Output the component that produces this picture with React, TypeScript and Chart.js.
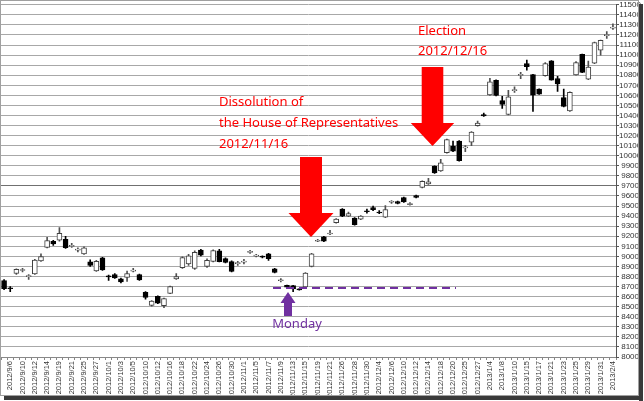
import React, { useEffect, useRef } from 'react';
import { Chart, registerables } from 'chart.js';

Chart.register(...registerables);

const dates: string[] = [
  '2012/9/5', '2012/9/6', '2012/9/7', '2012/9/10', '2012/9/11', '2012/9/12', '2012/9/13', '2012/9/14', '2012/9/18', '2012/9/19',
  '2012/9/20', '2012/9/21', '2012/9/24', '2012/9/25', '2012/9/26', '2012/9/27', '2012/9/28',
  '2012/10/1', '2012/10/2', '2012/10/3', '2012/10/4', '2012/10/5', '2012/10/9', '2012/10/10', '2012/10/11', '2012/10/12',
  '2012/10/15', '2012/10/16', '2012/10/17', '2012/10/18', '2012/10/19', '2012/10/22', '2012/10/23', '2012/10/24', '2012/10/25',
  '2012/10/26', '2012/10/29', '2012/10/30', '2012/10/31',
  '2012/11/1', '2012/11/2', '2012/11/5', '2012/11/6', '2012/11/7', '2012/11/8', '2012/11/9', '2012/11/12', '2012/11/13',
  '2012/11/14', '2012/11/15', '2012/11/16', '2012/11/19', '2012/11/20', '2012/11/21', '2012/11/22', '2012/11/26', '2012/11/27',
  '2012/11/28', '2012/11/29', '2012/11/30',
  '2012/12/3', '2012/12/4', '2012/12/5', '2012/12/6', '2012/12/7', '2012/12/10', '2012/12/11', '2012/12/12', '2012/12/13',
  '2012/12/14', '2012/12/17', '2012/12/18', '2012/12/19', '2012/12/20', '2012/12/21', '2012/12/25', '2012/12/26', '2012/12/27',
  '2012/12/28',
  '2013/1/4', '2013/1/7', '2013/1/8', '2013/1/9', '2013/1/10', '2013/1/11', '2013/1/15', '2013/1/16', '2013/1/17', '2013/1/18',
  '2013/1/21', '2013/1/22', '2013/1/23', '2013/1/24', '2013/1/25', '2013/1/28', '2013/1/29', '2013/1/30', '2013/1/31',
  '2013/2/1', '2013/2/4',
];

const openPrices: number[] = [
  8760, 8685, 8830, 8860, 8800, 8826, 8955, 9090, 9150, 9160,
  9170, 9100, 9065, 9025, 8945, 8855, 8985, 8805, 8820, 8777,
  8790, 8855, 8820, 8643, 8513, 8603, 8510, 8633, 8777, 8887,
  8925, 8880, 9062, 8900, 8950, 9055, 8977, 8948, 8930, 8945,
  9040, 9005, 9000, 9025, 8875, 8760, 8713, 8710, 8675, 8697,
  8900, 9150, 9195, 9225, 9335, 9470, 9400, 9380, 9370, 9450,
  9485, 9440, 9390, 9540, 9545, 9585, 9515, 9605, 9685, 9720,
  9895, 9850, 10030, 10095, 10145, 10080, 10135, 10300, 10410, 10605,
  10750, 10548, 10410, 10650, 10800, 10917, 10807, 10662, 10795, 10943,
  10768, 10577, 10446, 10802, 11007, 10760, 10920, 11050, 11195, 11270,
];

const highPrices: number[] = [
  8770, 8700, 8875, 8880, 8820, 8970, 9025, 9190, 9160, 9285,
  9200, 9130, 9085, 9095, 8965, 8960, 8990, 8815, 8830, 8785,
  8855, 8880, 8825, 8650, 8560, 8608, 8585, 8705, 8830, 8995,
  9020, 9055, 9070, 8975, 9065, 9070, 8985, 8955, 8950, 8970,
  9060, 9020, 9005, 9030, 8880, 8780, 8715, 8712, 8680, 8840,
  9030, 9170, 9200, 9260, 9375, 9475, 9440, 9385, 9405, 9470,
  9500, 9455, 9505, 9555, 9550, 9590, 9535, 9610, 9750, 9775,
  9900, 9965, 10165, 10145, 10150, 10100, 10240, 10345, 10425, 10770,
  10755, 10590, 10650, 10685, 10830, 10950, 10810, 10665, 10925, 10945,
  10790, 10662, 10635, 10935, 11010, 10940, 11130, 11150, 11235, 11310,
];

const lowPrices: number[] = [
  8670, 8650, 8820, 8845, 8770, 8820, 8950, 9085, 9110, 9150,
  9080, 9090, 9045, 9020, 8900, 8850, 8860, 8760, 8780, 8735,
  8750, 8845, 8760, 8575, 8505, 8530, 8490, 8630, 8770, 8880,
  8910, 8870, 9005, 8890, 8945, 8945, 8935, 8845, 8910, 8925,
  9030, 8995, 8985, 8960, 8835, 8745, 8690, 8650, 8665, 8690,
  8895, 9145, 9145, 9215, 9330, 9395, 9395, 9310, 9365, 9430,
  9455, 9425, 9385, 9525, 9520, 9535, 9510, 9580, 9680, 9715,
  9825, 9845, 10025, 10040, 9945, 10040, 10100, 10295, 10390, 10600,
  10595, 10470, 10405, 10630, 10765, 10850, 10440, 10610, 10790, 10750,
  10640, 10485, 10440, 10800, 10825, 10755, 10915, 11000, 11165, 11255,
];

const closePrices: number[] = [
  8680, 8681, 8870, 8869, 8807, 8962, 8998, 9158, 9124, 9230,
  9087, 9110, 9069, 9085, 8910, 8950, 8865, 8797, 8786, 8747,
  8830, 8863, 8767, 8593, 8556, 8536, 8580, 8700, 8800, 8987,
  9005, 9040, 9013, 8960, 9058, 8948, 8940, 8850, 8935, 8950,
  9050, 9010, 8995, 8978, 8840, 8765, 8693, 8677, 8670, 8835,
  9025, 9160, 9150, 9230, 9370, 9400, 9425, 9315, 9400, 9446,
  9465, 9432, 9465, 9545, 9527, 9540, 9525, 9585, 9745, 9740,
  9830, 9930, 10160, 10045, 9950, 10085, 10235, 10325, 10395, 10735,
  10600, 10510, 10585, 10655, 10807, 10884, 10603, 10613, 10917, 10752,
  10713, 10490, 10630, 10927, 10829, 10881, 11125, 11148, 11203, 11277,
];

const Y_MIN = 8000;
const Y_MAX = 11500;
const Y_STEP = 100;

function downArrow(ctx: CanvasRenderingContext2D, cx: number, top: number, headTop: number, tip: number, shaftHalf: number, headHalf: number) {
  ctx.beginPath();
  ctx.moveTo(cx - shaftHalf, top);
  ctx.lineTo(cx + shaftHalf, top);
  ctx.lineTo(cx + shaftHalf, headTop);
  ctx.lineTo(cx + headHalf, headTop);
  ctx.lineTo(cx, tip);
  ctx.lineTo(cx - headHalf, headTop);
  ctx.lineTo(cx - shaftHalf, headTop);
  ctx.closePath();
  ctx.fill();
}

function upArrow(ctx: CanvasRenderingContext2D, cx: number, tip: number, headBase: number, bottom: number, shaftHalf: number, headHalf: number) {
  ctx.beginPath();
  ctx.moveTo(cx, tip);
  ctx.lineTo(cx + headHalf, headBase);
  ctx.lineTo(cx + shaftHalf, headBase);
  ctx.lineTo(cx + shaftHalf, bottom);
  ctx.lineTo(cx - shaftHalf, bottom);
  ctx.lineTo(cx - shaftHalf, headBase);
  ctx.lineTo(cx - headHalf, headBase);
  ctx.closePath();
  ctx.fill();
}

const overlayPlugin = {
  id: 'overlay',
  afterDraw(chart: any) {
    const ctx: CanvasRenderingContext2D = chart.ctx;
    ctx.save();
    // purple dashed line
    ctx.strokeStyle = '#7030A0';
    ctx.lineWidth = 2;
    ctx.setLineDash([8, 5]);
    ctx.beginPath();
    ctx.moveTo(273, 288);
    ctx.lineTo(456, 288);
    ctx.stroke();
    ctx.setLineDash([]);

    // red arrows
    ctx.fillStyle = '#FF0000';
    downArrow(ctx, 311, 157, 213, 237, 11, 22.5);
    downArrow(ctx, 432.5, 67, 123, 146, 10.8, 21.7);

    // purple up arrow
    ctx.fillStyle = '#7030A0';
    upArrow(ctx, 288, 292, 303, 316, 4, 7.5);

    // texts
    ctx.font = '13px "Noto Sans"';
    ctx.textBaseline = 'alphabetic';
    ctx.textAlign = 'left';
    ctx.fillStyle = '#FF0000';
    ctx.fillText('Dissolution of', 219, 106);
    ctx.fillText('the House of Representatives', 219, 127);
    ctx.fillText('2012/11/16', 219, 148);
    ctx.fillText('Election', 418, 35);
    ctx.fillText('2012/12/16', 418, 55);
    ctx.fillStyle = '#7030A0';
    ctx.textAlign = 'center';
    ctx.fillText('Monday', 297, 328);

    // frame + shadow
    ctx.fillStyle = '#3a3a3a';
    ctx.fillRect(639, 4, 4, 397);
    ctx.fillRect(4, 396, 639, 4);
    ctx.strokeStyle = '#a0a0a0';
    ctx.lineWidth = 1;
    ctx.strokeRect(0.5, 0.5, 638, 395);
    ctx.restore();
  },
};

export default function App() {
  const ref = useRef<HTMLCanvasElement>(null);

  useEffect(() => {
    document.body.style.margin = '0';
    const canvas = ref.current!;
    const bodies = dates.map((_, i) => {
      const o = openPrices[i];
      const c = closePrices[i];
      let lo = Math.min(o, c);
      let hi = Math.max(o, c);
      if (hi - lo < 10) {
        const m = (hi + lo) / 2;
        lo = m - 5;
        hi = m + 5;
      }
      return [lo, hi];
    });
    const wicks = dates.map((_, i) => [lowPrices[i], highPrices[i]]);
    const up = dates.map((_, i) => closePrices[i] >= openPrices[i]);

    const chart = new Chart(canvas, {
      type: 'bar',
      data: {
        labels: dates,
        datasets: [
          {
            data: bodies as any,
            grouped: false,
            barThickness: 5,
            backgroundColor: up.map((u) => (u ? '#ffffff' : '#000000')),
            borderColor: up.map((u) => (u ? '#404040' : '#000000')),
            borderWidth: 1,
            borderSkipped: false,
          } as any,
          {
            data: wicks as any,
            grouped: false,
            barThickness: 1,
            backgroundColor: up.map((u) => (u ? '#505050' : '#000000')),
            borderWidth: 0,
          } as any,
        ],
      },
      options: {
        responsive: false,
        animation: false,
        devicePixelRatio: 1,
        layout: { padding: { left: 1, top: 2, right: 0, bottom: 0 } },
        plugins: { legend: { display: false }, tooltip: { enabled: false } },
        scales: {
          x: {
            offset: true,
            ticks: {
              autoSkip: false,
              minRotation: 90,
              maxRotation: 90,
              padding: 1,
              color: '#333333',
              font: { family: 'Liberation Sans', size: 7.5 },
              callback: (_v: any, i: number) => (i % 2 === 1 ? dates[i] : ''),
            },
            grid: { drawOnChartArea: false, tickLength: 3, color: '#888888' },
            border: { display: true, color: '#888888' },
            afterFit: (s: any) => {
              s.height = 44;
            },
          },
          y: {
            position: 'right',
            min: Y_MIN,
            max: Y_MAX,
            ticks: {
              stepSize: Y_STEP,
              autoSkip: false,
              crossAlign: 'center',
              padding: 0,
              color: '#333333',
              font: { family: 'Liberation Sans', size: 8 },
              callback: (v: any) => String(v),
            },
            grid: {
              color: (c: any) => (c.tick && c.tick.value === 9700 ? '#707070' : '#a8a8a8'),
              lineWidth: 1,
              tickLength: 3,
              tickColor: '#555555',
            },
            border: { display: true, color: '#555555' },
            afterFit: (s: any) => {
              s.width = 28;
            },
          },
        },
      },
      plugins: [overlayPlugin],
    } as any);
    return () => chart.destroy();
  }, []);

  return (
    <canvas
      ref={ref}
      width={644}
      height={401}
      style={{ position: 'fixed', left: 0, top: 0, width: 644, height: 401 }}
    />
  );
}
